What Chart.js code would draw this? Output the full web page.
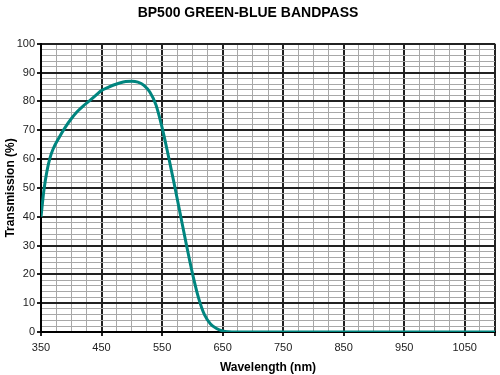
<!DOCTYPE html>
<html>
<head>
<meta charset="utf-8">
<script src="https://cdn.jsdelivr.net/npm/chart.js@4/dist/chart.umd.min.js"></script>
<style>
  html, body { margin: 0; padding: 0; background: #fff; }
  #wrap { width: 500px; height: 375px; }
</style>
</head>
<body>
<div id="wrap"><canvas id="bpChart" width="500" height="375"></canvas></div>
<script>
// values
var wavelengths = [350, 355, 360, 365, 370, 380, 390, 400, 410, 420, 430, 440, 450, 460, 470, 480, 490, 500,
                   510, 520, 530, 540, 550, 560, 570, 580, 590, 600, 610, 620, 630, 640, 650, 660, 670, 700, 800, 900, 1000, 1100];
var transmission = [40, 49.5, 56, 60.5, 63.5, 67.5, 71, 74, 76.5, 78.5, 80.2, 82, 83.8, 84.8, 85.7, 86.4, 86.9, 87,
                    86.7, 85.6, 83.2, 78.8, 71, 61.5, 51.5, 41, 30.5, 20.5, 12, 6, 2.8, 1.2, 0.4, 0.1, 0, 0, 0, 0, 0, 0];
var xTickLabels = [350, 450, 550, 650, 750, 850, 950, 1050];
var yTickLabels = [0, 10, 20, 30, 40, 50, 60, 70, 80, 90, 100];

var FONT = '"Liberation Sans", Arial, sans-serif';

var points = wavelengths.map(function(w, i) { return { x: w, y: transmission[i] }; });

function isMajorX(v) { return xTickLabels.indexOf(v) !== -1 || v === 1100; }
function isMajorY(v) { return yTickLabels.indexOf(v) !== -1; }

var ctx = document.getElementById('bpChart').getContext('2d');
new Chart(ctx, {
    type: 'line',
    data: {
        datasets: [{
            label: 'BP500',
            data: points,
            borderColor: '#00857f',
            borderWidth: 3,
            pointRadius: 0,
            fill: false,
            cubicInterpolationMode: 'monotone'
        }]
    },
    options: {
        responsive: false,
        animation: false,
        layout: { padding: { left: 0, right: 4, top: 0, bottom: 0 } },
        plugins: {
            legend: { display: false },
            tooltip: { enabled: false },
            title: {
                display: true,
                text: 'BP500 GREEN-BLUE BANDPASS',
                color: '#000',
                font: { family: FONT, size: 14, weight: 'bold' },
                padding: { top: 5, bottom: 22 }
            }
        },
        scales: {
            x: {
                type: 'linear',
                min: 350,
                max: 1100,
                afterFit: function(s) { s.height = 43; },
                afterBuildTicks: function(s) {
                    var t = [];
                    for (var v = 350; v <= 1100; v += 25) t.push({ value: v });
                    s.ticks = t;
                },
                ticks: {
                    autoSkip: false,
                    maxRotation: 0,
                    padding: 5,
                    color: '#222',
                    font: { family: FONT, size: 11 },
                    callback: function(v) { return xTickLabels.indexOf(v) !== -1 ? String(v) : ''; }
                },
                grid: {
                    color: function(c) { return isMajorX(c.tick.value) ? '#222' : '#a8a8a8'; },
                    lineWidth: function(c) { return isMajorX(c.tick.value) ? 2 : 1; },
                    tickColor: function(c) { return isMajorX(c.tick.value) ? '#222' : 'rgba(0,0,0,0)'; },
                    tickLength: 4
                },
                border: { color: '#000', width: 2 },
                title: {
                    display: true,
                    text: 'Wavelength (nm)',
                    color: '#000',
                    font: { family: FONT, size: 12, weight: 'bold' },
                    padding: { top: 0, bottom: 0 }
                }
            },
            y: {
                min: 0,
                max: 100,
                afterFit: function(s) { s.width = 41; },
                afterBuildTicks: function(s) {
                    var t = [];
                    for (var v = 0; v <= 100; v += 2) t.push({ value: v });
                    s.ticks = t;
                },
                ticks: {
                    autoSkip: false,
                    padding: 2,
                    color: '#222',
                    font: { family: FONT, size: 11 },
                    callback: function(v) { return isMajorY(v) ? String(v) : ''; }
                },
                grid: {
                    color: function(c) { return isMajorY(c.tick.value) ? '#222' : '#a8a8a8'; },
                    lineWidth: function(c) { return isMajorY(c.tick.value) ? 2 : 1; },
                    tickColor: function(c) { return isMajorY(c.tick.value) ? '#222' : 'rgba(0,0,0,0)'; },
                    tickLength: 4
                },
                border: { color: '#000', width: 2 },
                title: {
                    display: true,
                    text: 'Transmission (%)',
                    color: '#000',
                    font: { family: FONT, size: 12, weight: 'bold' },
                    padding: { top: 3, bottom: 0 }
                }
            }
        }
    }
});
</script>
</body>
</html>
